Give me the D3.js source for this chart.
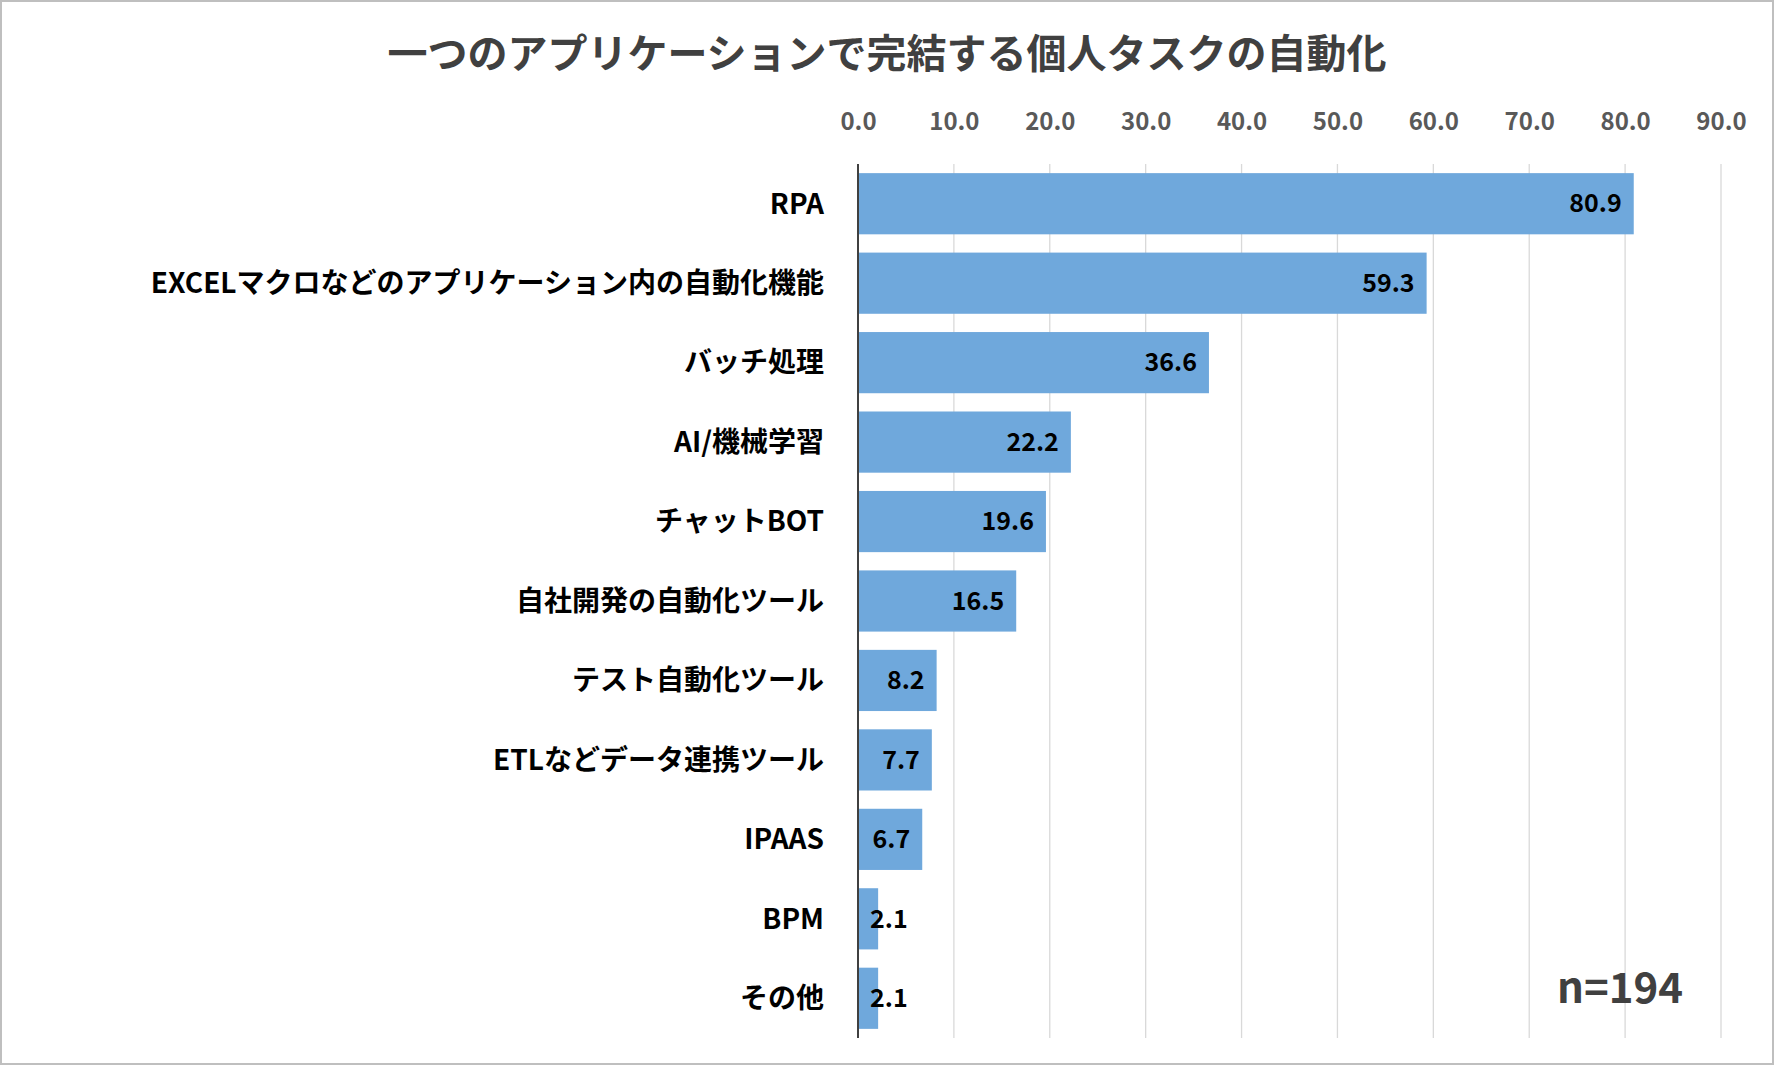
<!DOCTYPE html>
<html><head><meta charset="utf-8">
<script src="https://cdn.jsdelivr.net/npm/d3@7"></script>
<style>body{margin:0;background:#fff}svg{display:block}</style>
</head><body><svg id="c" width="1774" height="1065"></svg>
<script>
const categories=["RPA","EXCELマクロなどのアプリケーション内の自動化機能","バッチ処理","AI/機械学習","チャットBOT","自社開発の自動化ツール","テスト自動化ツール","ETLなどデータ連携ツール","IPAAS","BPM","その他"];
const values=[80.9,59.3,36.6,22.2,19.6,16.5,8.2,7.7,6.7,2.1,2.1];
const ticks=[0,10,20,30,40,50,60,70,80,90];
const font="'Noto Sans CJK JP','Noto Sans',sans-serif";
const svg=d3.select("#c");
svg.append("rect").attr("x",1).attr("y",1).attr("width",1772).attr("height",1063).attr("fill","#fff").attr("stroke","#bfbfbf").attr("stroke-width",2);
const x=d3.scaleLinear().domain([0,90]).range([858,1721]);
const y=d3.scaleBand().domain(categories).range([164,1038]).paddingInner(0.23).paddingOuter(0.115);
svg.append("text").attr("x",887).attr("y",68).attr("text-anchor","middle").attr("font-family",font).attr("font-weight","bold").attr("font-size",40).attr("fill","#404040").text("一つのアプリケーションで完結する個人タスクの自動化");
const ax=svg.append("g").attr("transform","translate(0,164)").call(d3.axisTop(x).tickValues(ticks).tickFormat(d3.format(".1f")).tickSize(0).tickPadding(34));
ax.select(".domain").remove();
ax.selectAll("text").attr("font-family",font).attr("font-weight","bold").attr("font-size",24).attr("fill","#595959");
svg.append("g").selectAll("line").data(ticks.slice(1)).join("line").attr("x1",d=>x(d)).attr("x2",d=>x(d)).attr("y1",164).attr("y2",1038).attr("stroke","#d9d9d9").attr("stroke-width",1.3);
svg.append("g").selectAll("rect").data(values).join("rect").attr("x",x(0)).attr("y",(d,i)=>y(categories[i])).attr("width",d=>x(d)-x(0)).attr("height",y.bandwidth()).attr("fill","#6fa8dc");
svg.append("line").attr("x1",x(0)).attr("x2",x(0)).attr("y1",164).attr("y2",1038).attr("stroke","#404040").attr("stroke-width",2);
svg.append("g").selectAll("text").data(categories).join("text").attr("x",824).attr("y",d=>y(d)+y.bandwidth()/2).attr("dy","0.35em").attr("text-anchor","end").attr("font-family",font).attr("font-weight","bold").attr("font-size",28).attr("fill","#000").text(d=>d);
const vl=svg.append("g").selectAll("text").data(values).join("text").attr("y",(d,i)=>y(categories[i])+y.bandwidth()/2).attr("dy","0.35em").attr("text-anchor","end").attr("font-family",font).attr("font-weight","bold").attr("font-size",25).attr("fill","#000").text(d=>d.toFixed(1));
vl.each(function(d){const w=this.getComputedTextLength();d3.select(this).attr("x",Math.max(x(d)-12,x(0)+12+w));});
svg.append("text").attr("x",1683).attr("y",1003).attr("text-anchor","end").attr("font-family",font).attr("font-weight","bold").attr("font-size",42).attr("fill","#404040").text("n=194");
</script></body></html>
